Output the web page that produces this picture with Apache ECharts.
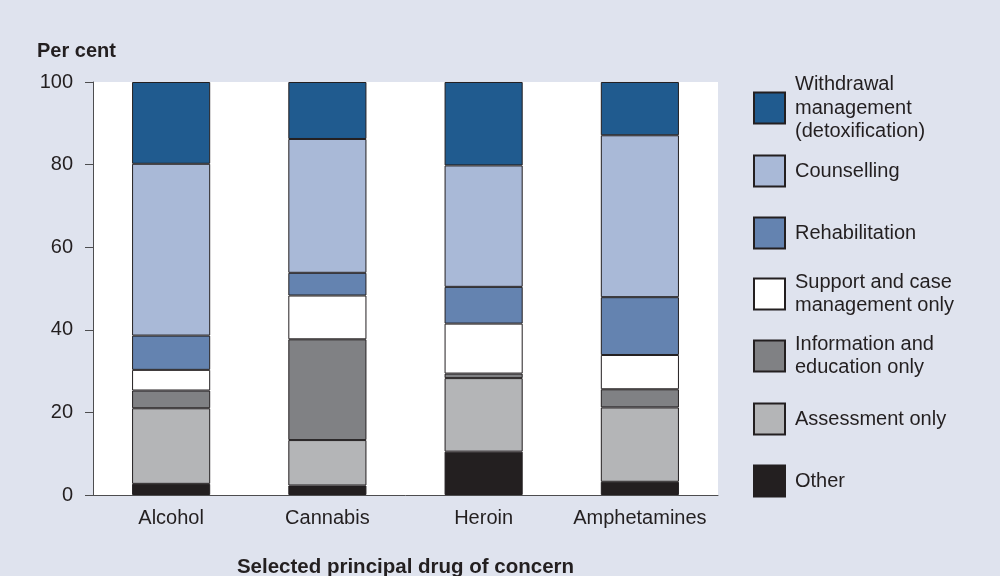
<!DOCTYPE html>
<html>
<head>
<meta charset="utf-8">
<script src="https://cdn.jsdelivr.net/npm/echarts@6/dist/echarts.min.js"></script>
<style>
html,body{margin:0;padding:0;background:#dfe3ee;}
#chart{width:1000px;height:576px;}
</style>
</head>
<body>
<div id="chart"></div>
<script>
const categories = ['Alcohol', 'Cannabis', 'Heroin', 'Amphetamines'];
const seriesNames = [
  'Other',
  'Assessment only',
  'Information and\neducation only',
  'Support and case\nmanagement only',
  'Rehabilitation',
  'Counselling',
  'Withdrawal\nmanagement\n(detoxification)'
];
const other       = [2.7, 2.3, 10.5, 3.2];
const assessment  = [18.3, 11.0, 17.8, 18.0];
const information = [4.3, 24.4, 1.1, 4.4];
const support     = [5.0, 10.6, 12.1, 8.3];
const rehab       = [8.3, 5.5, 8.9, 14.0];
const counselling = [41.6, 32.4, 29.4, 39.2];
const withdrawal  = [19.8, 13.8, 20.2, 12.9];
const yTicks = [0, 20, 40, 60, 80, 100];

const values = [other, assessment, information, support, rehab, counselling, withdrawal];
const colors = ['#231f20', '#b4b5b7', '#808184', '#ffffff', '#6483b0', '#a9b9d7', '#205b8f'];
const textColor = '#231f20';
const font = 'Liberation Sans, Arial, sans-serif';

const series = seriesNames.map((n, i) => ({
  name: n,
  type: 'bar',
  stack: 'total',
  barWidth: '50%',
  data: values[i],
  itemStyle: { color: colors[i], borderColor: '#231f20', borderWidth: 1 },
  emphasis: { disabled: true }
}));

// legend ordering top to bottom: Withdrawal ... Other
const legendOrder = [6, 5, 4, 3, 2, 1, 0];
const lineH = 23.5;
const legends = legendOrder.map((si, k) => {
  const center = 103 + 62 * k;
  const lines = seriesNames[si].split('\n').length;
  const h = Math.max(31, lines * lineH);
  return {
    data: [seriesNames[si]],
    left: 748,
    top: center - h / 2,
    orient: 'vertical',
    itemWidth: 31,
    itemHeight: 31,
    selectedMode: false,
    icon: 'rect',
    textStyle: { color: textColor, fontSize: 20, fontFamily: font, lineHeight: lineH, padding: [0, 0, 0, 5] }
  };
});

const chart = echarts.init(document.getElementById('chart'));
chart.setOption({
  backgroundColor: '#dfe3ee',
  animation: false,
  textStyle: { fontFamily: font },
  title: [
    { text: 'Per cent', left: 32, top: 36, textStyle: { fontSize: 20, fontWeight: 'bold', color: textColor, fontFamily: font } },
  ],
  legend: legends,
  grid: { left: 93, right: 282, top: 82, bottom: 81, show: true, backgroundColor: '#ffffff', borderWidth: 0, outerBoundsMode: 'none', containLabel: false },
  xAxis: {
    type: 'category',
    data: categories,
    name: 'Selected principal drug of concern',
    nameLocation: 'middle',
    nameGap: 62,
    nameTextStyle: { fontSize: 20.5, fontWeight: 'bold', color: textColor, fontFamily: font },
    axisLine: { lineStyle: { color: '#4d4d4f', width: 1 } },
    axisTick: { show: false },
    axisLabel: { fontSize: 20, color: textColor, margin: 13, fontFamily: font, interval: 0, hideOverlap: false }
  },
  yAxis: {
    type: 'value',
    min: yTicks[0],
    max: yTicks[yTicks.length - 1],
    interval: yTicks[1] - yTicks[0],
    splitLine: { show: false },
    axisLine: { show: true, lineStyle: { color: '#4d4d4f', width: 1 } },
    axisTick: { show: true, length: 8, lineStyle: { color: '#4d4d4f' } },
    axisLabel: { fontSize: 20, color: textColor, margin: 20, fontFamily: font }
  },
  series: series
});
</script>
</body>
</html>
